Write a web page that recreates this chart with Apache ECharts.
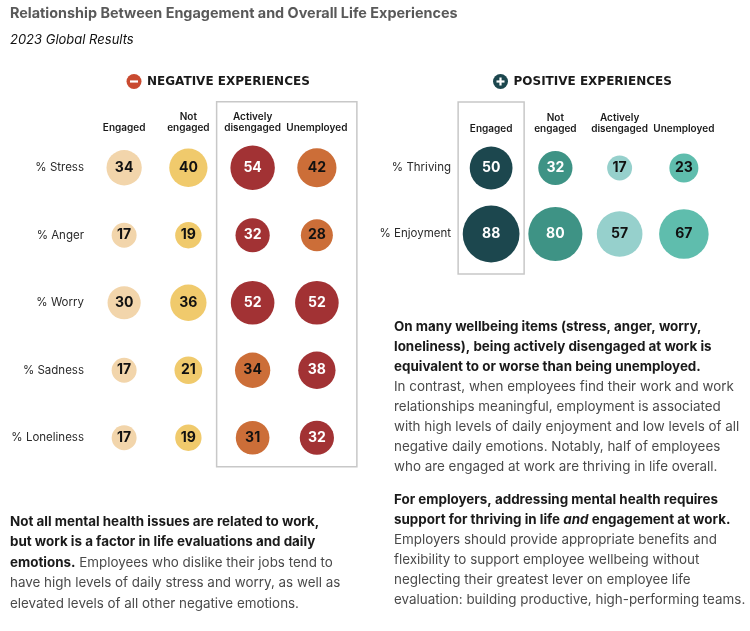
<!DOCTYPE html>
<html>
<head>
<meta charset="utf-8">
<script src="https://cdn.jsdelivr.net/npm/echarts@6/dist/echarts.min.js"></script>
<style>
  html, body { margin: 0; padding: 0; background: #fff; }
  #chart { width: 750px; height: 631px; }
</style>
</head>
<body>
<div id="chart"></div>
<script>
// groups of workers, shared by both panels
var groups = ['Engaged', 'Not\nengaged', 'Actively\ndisengaged', 'Unemployed'];

// negative experiences (%)
var negRows = ['% Stress', '% Anger', '% Worry', '% Sadness', '% Loneliness'];
var negValues = [
  [34, 40, 54, 42],
  [17, 19, 32, 28],
  [30, 36, 52, 52],
  [17, 21, 34, 38],
  [17, 19, 31, 32]
];
// colour class of each bubble (index into palette)
var negTones = [
  [0, 1, 3, 2],
  [0, 1, 3, 2],
  [0, 1, 3, 3],
  [0, 1, 2, 3],
  [0, 1, 2, 3]
];

// positive experiences (%)
var posRows = ['% Thriving', '% Enjoyment'];
var posValues = [
  [50, 32, 17, 23],
  [88, 80, 57, 67]
];
var posTones = [
  [4, 5, 6, 7],
  [4, 5, 6, 7]
];

var palette = ['#f2d5ab', '#f0ca6c', '#cc6e38', '#a23234', '#1c474e', '#3e9385', '#96d0cc', '#5fbdad'];
var whiteText = [false, false, false, true, true, true, false, false];

var FONT = 'Inter, "Noto Sans", sans-serif';

function cells(values, tones) {
  var out = [];
  values.forEach(function(row, r) {
    row.forEach(function(v, c) {
      var t = tones[r][c];
      out.push({
        value: [c, r, v],
        itemStyle: { color: palette[t], opacity: 1 },
        label: { color: whiteText[t] ? '#fff' : '#111' }
      });
    });
  });
  return out;
}

function bubbleSeries(idx, values, tones) {
  return {
    type: 'scatter',
    xAxisIndex: idx,
    yAxisIndex: idx,
    data: cells(values, tones),
    symbolSize: function(d) { return 6.05 * Math.sqrt(d[2]); },
    itemStyle: { opacity: 1 },
    label: {
      show: true,
      position: 'inside',
      formatter: function(p) { return p.value[2]; },
      fontFamily: FONT,
      fontSize: 14,
      fontWeight: 'bold'
    },
    emphasis: { disabled: true },
    animation: false
  };
}

function xAx(idx) {
  return {
    type: 'category',
    gridIndex: idx,
    data: groups,
    position: 'top',
    axisLine: { show: false },
    axisTick: { show: false },
    splitLine: { show: false },
    axisLabel: {
      fontFamily: FONT, fontSize: 10, fontWeight: 600, color: '#1a1a1a',
      lineHeight: 11, margin: 1, interval: 0
    }
  };
}

function yAx(idx, rows) {
  return {
    type: 'category',
    gridIndex: idx,
    data: rows,
    inverse: true,
    axisLine: { show: false },
    axisTick: { show: false },
    splitLine: { show: false },
    axisLabel: { fontFamily: FONT, fontSize: 11.5, color: '#2a2a2a', margin: 8 }
  };
}

function para(x, y, lh, text) {
  return {
    type: 'text', x: x, y: y,
    style: {
      text: text,
      fontFamily: FONT,
      verticalAlign: 'top',
      rich: {
        b: { fontFamily: FONT, fontSize: 13.4, fontWeight: 'bold', fill: '#1a1a1a', lineHeight: lh },
        bi: { fontFamily: FONT, fontSize: 13.4, fontWeight: 'bold', fontStyle: 'italic', fill: '#1a1a1a', lineHeight: lh },
        r: { fontFamily: FONT, fontSize: 13.4, fill: '#4a4a4a', lineHeight: lh }
      }
    }
  };
}

function header(cx, cy, color, plus, label) {
  var kids = [
    { type: 'circle', shape: { cx: cx, cy: cy, r: 7.5 }, style: { fill: color } },
    { type: 'rect', shape: { x: cx - 4, y: cy - 1.1, width: 8, height: 2.2 }, style: { fill: '#fff' } }
  ];
  if (plus) kids.push({ type: 'rect', shape: { x: cx - 1.1, y: cy - 4, width: 2.2, height: 8 }, style: { fill: '#fff' } });
  kids.push({
    type: 'text', x: cx + 13, y: cy,
    style: { text: label, fontFamily: '"DejaVu Sans", sans-serif', fontSize: 12, fontWeight: 'bold', fill: '#1a1a1a', verticalAlign: 'middle' }
  });
  return kids;
}

var chart = echarts.init(document.getElementById('chart'));

var graphics = [
  { type: 'text', x: 10, y: 14, style: { text: 'Relationship Between Engagement and Overall Life Experiences', fontFamily: FONT, fontSize: 14.4, fontWeight: 'bold', fill: '#595959', verticalAlign: 'middle' } },
  { type: 'text', x: 10, y: 40, style: { text: '2023 Global Results', fontFamily: FONT, fontSize: 13, fontStyle: 'italic', fill: '#111', verticalAlign: 'middle' } }
]
  .concat(header(134, 81.5, '#c94a30', false, 'NEGATIVE EXPERIENCES'))
  .concat(header(500.5, 81.5, '#1c474e', true, 'POSITIVE EXPERIENCES'))
  .concat([
    para(10, 511.5, 20.5,
      '{b|Not all mental health issues are related to work,}\n' +
      '{b|but work is a factor in life evaluations and daily}\n' +
      '{b|emotions.}{r| Employees who dislike their jobs tend to}\n' +
      '{r|have high levels of daily stress and worry, as well as}\n' +
      '{r|elevated levels of all other negative emotions.}'),
    para(394, 316.5, 20,
      '{b|On many wellbeing items (stress, anger, worry,}\n' +
      '{b|loneliness), being actively disengaged at work is}\n' +
      '{b|equivalent to or worse than being unemployed.}\n' +
      '{r|In contrast, when employees find their work and work}\n' +
      '{r|relationships meaningful, employment is associated}\n' +
      '{r|with high levels of daily enjoyment and low levels of all}\n' +
      '{r|negative daily emotions. Notably, half of employees}\n' +
      '{r|who are engaged at work are thriving in life overall.}'),
    para(394, 490, 20,
      '{b|For employers, addressing mental health requires}\n' +
      '{b|support for thriving in life }{bi|and}{b| engagement at work.}\n' +
      '{r|Employers should provide appropriate benefits and}\n' +
      '{r|flexibility to support employee wellbeing without}\n' +
      '{r|neglecting their greatest lever on employee life}\n' +
      '{r|evaluation: building productive, high-performing teams.}')
  ]);

chart.setOption({
  backgroundColor: '#fff',
  animation: false,
  grid: [
    { left: 92, top: 134, width: 257, height: 337.5 },
    { left: 459, top: 135, width: 257, height: 132 }
  ],
  xAxis: [xAx(0), xAx(1)],
  yAxis: [yAx(0, negRows), yAx(1, posRows)],
  series: [
    bubbleSeries(0, negValues, negTones),
    bubbleSeries(1, posValues, posTones)
  ],
  graphic: graphics
});

// highlight frames around columns, placed from the axes
function frame(idx, c0, c1, rLast, pad) {
  var a = chart.convertToPixel({ gridIndex: idx }, [c0, 0]);
  var b = chart.convertToPixel({ gridIndex: idx }, [c1, rLast]);
  return {
    type: 'rect',
    shape: { x: a[0] - pad[0], y: a[1] - pad[1], width: b[0] - a[0] + pad[0] + pad[2], height: b[1] - a[1] + pad[1] + pad[3] },
    style: { fill: 'none', stroke: '#c8c8c8', lineWidth: 1.5 },
    z: -1
  };
}

chart.setOption({
  graphic: graphics.concat([
    frame(0, 2, 3, negRows.length - 1, [36, 66, 40, 29]),
    frame(1, 0, 0, posRows.length - 1, [33, 66, 33, 40])
  ])
});
</script>
</body>
</html>
